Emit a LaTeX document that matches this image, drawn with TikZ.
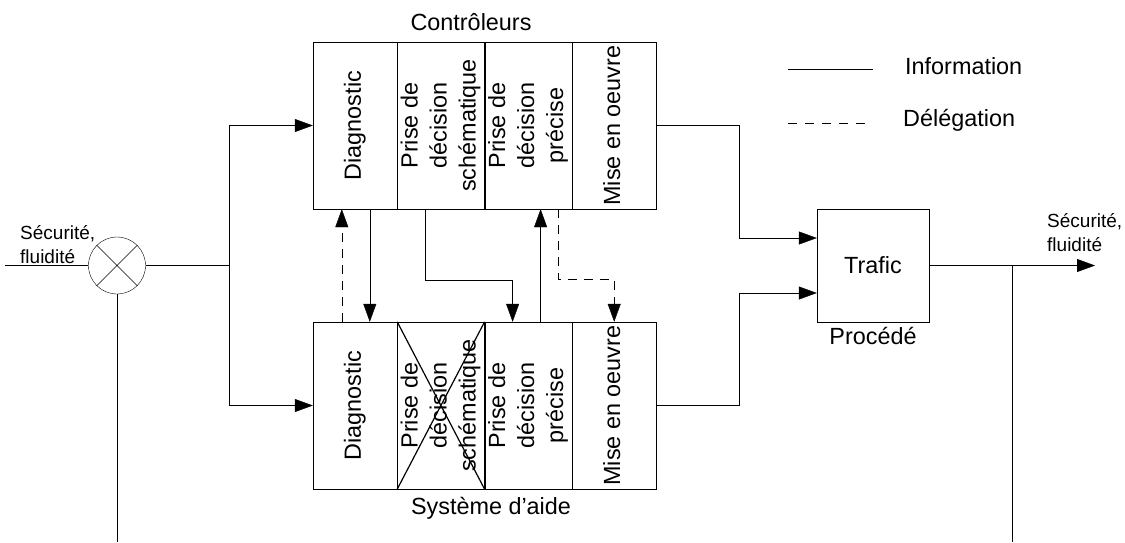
\documentclass[tikz,border=0pt]{standalone}
\usepackage{fontspec}
\setmainfont{Liberation Sans}
\usepackage{graphicx}
\usetikzlibrary{positioning, arrows.meta}
\newcommand{\bigtxt}{\fontsize{23.4}{29}\selectfont}
\newcommand{\smalltxt}{\fontsize{19}{24}\selectfont}
\newcommand{\vtxt}[1]{\rotatebox{90}{\begin{tabular}{@{}c@{}}#1\end{tabular}}}
\tikzset{
  >={Triangle[length=18pt,width=13pt]},
  x=1pt, y=-1pt,
  line width=1.8pt,
  cell/.style={draw, minimum width=84pt, minimum height=167pt, inner sep=0pt, font=\bigtxt},
  plant/.style={draw, minimum width=112pt, minimum height=113pt, font=\bigtxt},
  lbl/.style={inner sep=0pt, font=\bigtxt},
  sig/.style={inner sep=0pt, align=left, font=\smalltxt},
  deleg/.style={dash pattern=on 9pt off 7pt},
}

\begin{document}
\begin{tikzpicture}
        \useasboundingbox (0,0) rectangle (1125,542);

        % controleurs
        \node[cell] (t1) at (355,125.5) {\vtxt{Diagnostic}};
        \node[cell, right=0pt of t1] (t2) {\vtxt{Prise de\\décision\\schématique}};
        \node[cell, right=0pt of t2] (t3) {\vtxt{Prise de\\décision\\précise}};
        \node[cell, right=0pt of t3] (t4) {\vtxt{Mise en oeuvre}};
        \node[lbl] (ctl) at (471,22) {Contrôleurs};

        % systeme d'aide
        \node[cell] (b1) at (355,405.5) {\vtxt{Diagnostic}};
        \node[cell, right=0pt of b1] (b2) {\vtxt{Prise de\\décision\\schématique}};
        \node[cell, right=0pt of b2] (b3) {\vtxt{Prise de\\décision\\précise}};
        \node[cell, right=0pt of b3] (b4) {\vtxt{Mise en oeuvre}};
        \node[lbl] (aid) at (491,508) {Système d’aide};
        \draw[line width=1.2pt] (b2.north west) -- (b2.south east)
                                (b2.south west) -- (b2.north east);

        % comparateur
        \node[draw, circle, minimum size=57pt, inner sep=0pt] (sum) at (117,265.5) {};
        \draw (sum.north west) -- (sum.south east)
              (sum.south west) -- (sum.north east);
        \node[sig, anchor=west] (ref) at (20,245) {Sécurité,\\fluidité};

        % procede
        \node[plant] (traf) at (873,265.5) {Trafic};
        \node[lbl, inner sep=5pt, below=0pt of traf] (proc) {Procédé};
        \node[sig, anchor=west] (res) at (1047,233) {Sécurité,\\fluidité};

        % legende
        \coordinate (li1) at (788,69);
        \coordinate (li2) at (873,69);
        \coordinate (ld1) at (788,123);
        \coordinate (ld2) at (866,123);
        \draw (li1) -- (li2);
        \draw[dash pattern=on 9pt off 8pt] (ld1) -- (ld2);
        \node[lbl, anchor=west] (info) at (905,66) {Information};
        \node[lbl, anchor=west] (dele) at (903,120) {Délégation};

        % connexions
        \coordinate (in) at (5,265.5);
        \coordinate (split) at (229,265.5);
        \coordinate (fbl) at (117,542);
        \coordinate (out) at (1095,265.5);
        \coordinate (tap) at (1012,265.5);
        \coordinate (fbr) at (1012,542);
        \draw (in) -- (sum.west);
        \draw (sum) -- (split);
        \draw (sum.south) -- (fbl);
        \draw[->] (split) |- (t1.west);
        \draw[->] (split) |- (b1.west);
        \draw[->] (t4.east) -- ++(83,0) |- ([yshift=27.5pt]traf.west);
        \draw[->] (b4.east) -- ++(83,0) |- ([yshift=-27.5pt]traf.west);
        \draw[->] (traf.east) -- (out);
        \draw (tap) -- (fbr);

        % entre les deux niveaux
        \draw[->, deleg] ([xshift=29pt]b1.north west) -- ([xshift=29pt]t1.south west);
        \draw[->] ([xshift=57pt]t1.south west) -- ([xshift=57pt]b1.north west);
        \draw[->] ([xshift=28pt]t2.south west) -- ++(0,71) -| ([xshift=28pt]b3.north west);
        \draw[->] ([xshift=56pt]b3.north west) -- ([xshift=56pt]t3.south west);
        \draw[->, deleg] ([xshift=-14pt]t4.south west) -- ++(0,70) -| (b4.north);

\end{tikzpicture}
\end{document}
